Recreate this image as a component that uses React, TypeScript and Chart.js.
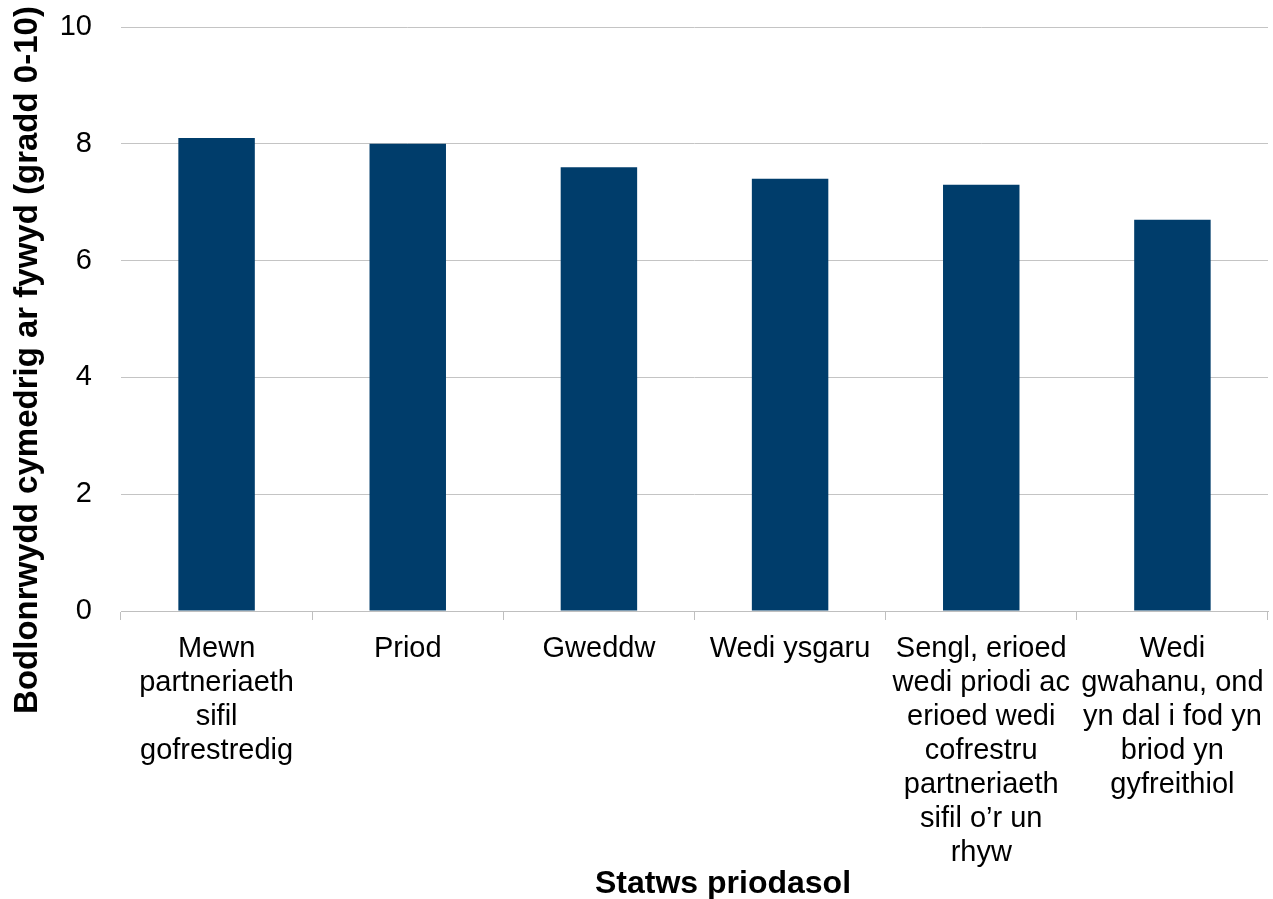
import React, { useEffect, useRef } from "react";
import { Chart, registerables } from "chart.js";

Chart.register(...registerables);

const categories: string[][] = [
  ["Mewn", "partneriaeth", "sifil", "gofrestredig"],
  ["Priod"],
  ["Gweddw"],
  ["Wedi ysgaru"],
  ["Sengl, erioed", "wedi priodi ac", "erioed wedi", "cofrestru", "partneriaeth", "sifil o’r un", "rhyw"],
  ["Wedi", "gwahanu, ond", "yn dal i fod yn", "briod yn", "gyfreithiol"],
];
const values: number[] = [8.1, 8.0, 7.6, 7.4, 7.3, 6.7];
const yTitle = "Bodlonrwydd cymedrig ar fywyd (gradd 0-10)";
const xTitle = "Statws priodasol";

const FONT = "'Liberation Sans', Arial, sans-serif";

export default function App() {
  const ref = useRef<HTMLCanvasElement | null>(null);
  useEffect(() => {
    if (!ref.current) return;
    const titlesPlugin = {
      id: "titlesPlugin",
      afterDraw(chart: any) {
        const ctx = chart.ctx;
        ctx.save();
        ctx.fillStyle = "#000000";
        ctx.font = `bold 32px ${FONT}`;
        ctx.textAlign = "center";
        ctx.textBaseline = "alphabetic";
        ctx.fillText(xTitle, 723, 893);
        ctx.font = `bold 33px ${FONT}`;
        ctx.translate(37, 360);
        ctx.rotate(-Math.PI / 2);
        ctx.fillText(yTitle, 0, 0);
        ctx.restore();
      },
    };
    const chart = new Chart(ref.current, {
      type: "bar",
      data: {
        labels: categories,
        datasets: [
          {
            data: values,
            backgroundColor: "#003d6b",
            barPercentage: 0.4,
            categoryPercentage: 1,
          },
        ],
      },
      options: {
        animation: false,
        responsive: false,
        maintainAspectRatio: false,
        layout: { padding: { left: 0, right: 5, top: 27, bottom: 0 } },
        plugins: { legend: { display: false }, tooltip: { enabled: false } },
        scales: {
          x: {
            afterFit: (scale: any) => {
              scale.height = 288;
              scale.paddingLeft = 0;
              scale.paddingRight = 0;
            },
            grid: {
              offset: true,
              drawOnChartArea: false,
              drawTicks: true,
              tickLength: 9,
              tickColor: "#bfbfbf",
            },
            border: { display: true, color: "#bfbfbf", width: 1 },
            ticks: {
              color: "#000000",
              font: { family: FONT, size: 29, lineHeight: 34 / 29 },
              padding: 12,
              maxRotation: 0,
              autoSkip: false,
            },
          },
          y: {
            afterFit: (scale: any) => {
              scale.width = 121;
              scale.paddingTop = 0;
              scale.paddingBottom = 0;
            },
            min: 0,
            max: 10,
            ticks: {
              stepSize: 2,
              color: "#000000",
              font: { family: FONT, size: 29 },
              padding: 29,
            },
            grid: { color: "#c4c4c4", drawTicks: false },
            border: { display: false },
          },
        },
      },
      plugins: [titlesPlugin],
    });
    return () => chart.destroy();
  }, []);
  return (
    <div style={{ position: "fixed", left: 0, top: 0, width: 1273, height: 899, background: "#fff" }}>
      <canvas ref={ref} width={1273} height={899} style={{ display: "block" }} />
    </div>
  );
}
